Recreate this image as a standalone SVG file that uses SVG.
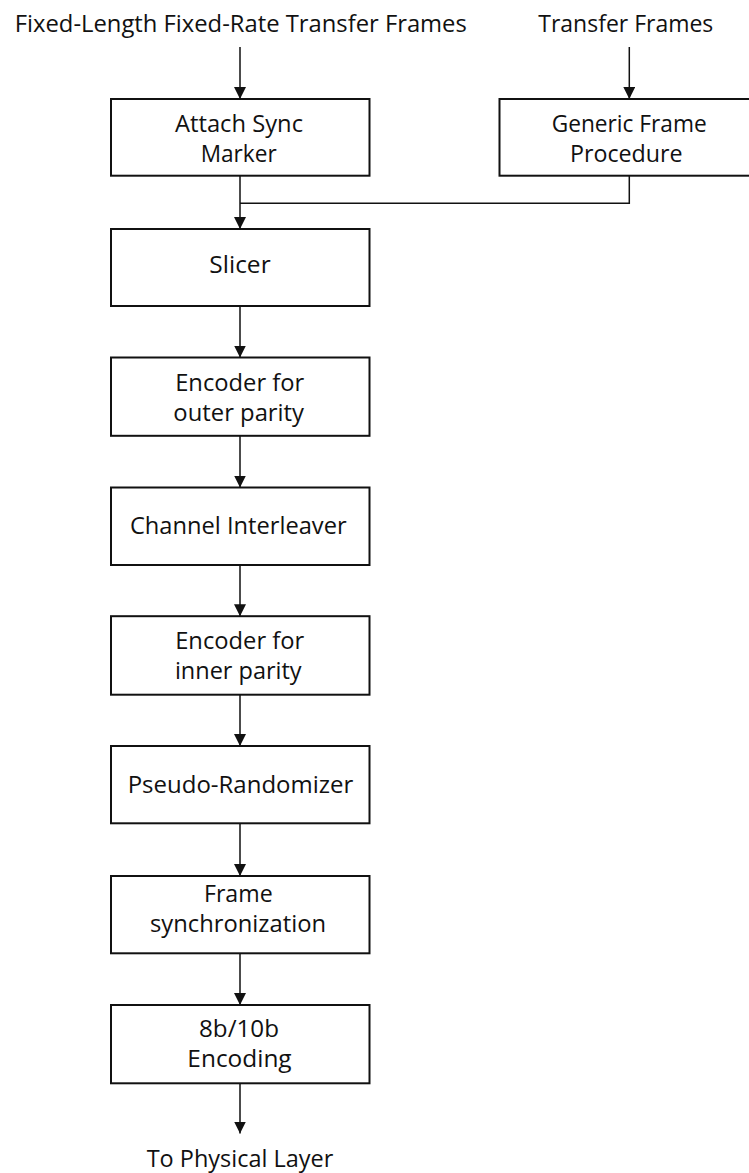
<svg xmlns="http://www.w3.org/2000/svg" width="749" height="1173" viewBox="0 0 749 1173">
<style>
.box{fill:#fff;stroke:#111;stroke-width:2}
.t{font-family:"Open Sans","Noto Sans","DejaVu Sans",sans-serif;font-size:23px;fill:#111;text-anchor:middle}
.c{fill:none;stroke:#111;stroke-width:1.5}
</style>
<defs>
<marker id="ah" viewBox="0 0 12 12" markerWidth="12" markerHeight="12" refX="12" refY="6" orient="auto" markerUnits="userSpaceOnUse">
<path d="M0,0 L12,6 L0,12 Z" fill="#111"/>
</marker>
</defs>
<rect width="749" height="1173" fill="#fff"/>
<g id="labels">
<text class="t" x="240.8" y="31.7" textLength="452" lengthAdjust="spacingAndGlyphs">Fixed-Length Fixed-Rate Transfer Frames</text>
<text class="t" x="625.8" y="31.7" textLength="175" lengthAdjust="spacingAndGlyphs">Transfer Frames</text>
<text class="t" x="240" y="1166.7" textLength="186.7" lengthAdjust="spacingAndGlyphs">To Physical Layer</text>
</g>
<g id="connectors">
<line class="c" x1="240" y1="47" x2="240" y2="99" marker-end="url(#ah)"/>
<line class="c" x1="629.3" y1="47" x2="629.3" y2="99" marker-end="url(#ah)"/>
<line class="c" x1="240" y1="176" x2="240" y2="229" marker-end="url(#ah)"/>
<polyline class="c" points="629.3,176 629.3,203.3 240,203.3"/>
<line class="c" x1="240" y1="306" x2="240" y2="357.5" marker-end="url(#ah)"/>
<line class="c" x1="240" y1="435.5" x2="240" y2="487.5" marker-end="url(#ah)"/>
<line class="c" x1="240" y1="565" x2="240" y2="616.2" marker-end="url(#ah)"/>
<line class="c" x1="240" y1="694.7" x2="240" y2="746" marker-end="url(#ah)"/>
<line class="c" x1="240" y1="823.5" x2="240" y2="876" marker-end="url(#ah)"/>
<line class="c" x1="240" y1="953.3" x2="240" y2="1005" marker-end="url(#ah)"/>
<line class="c" x1="240" y1="1083.3" x2="240" y2="1133.5" marker-end="url(#ah)"/>
</g>
<g id="attach">
<rect class="box" x="111" y="99" width="258.5" height="76.7"/>
<text class="t" x="239" y="131.7" textLength="128" lengthAdjust="spacingAndGlyphs">Attach Sync</text>
<text class="t" x="238.7" y="161.7" textLength="76" lengthAdjust="spacingAndGlyphs">Marker</text>
</g>
<g id="generic">
<rect class="box" x="499.5" y="99" width="250.5" height="76.7"/>
<text class="t" x="629.2" y="131.7" textLength="155" lengthAdjust="spacingAndGlyphs">Generic Frame</text>
<text class="t" x="626.3" y="161.7" textLength="112.7" lengthAdjust="spacingAndGlyphs">Procedure</text>
</g>
<g id="slicer">
<rect class="box" x="111" y="229" width="258.5" height="77"/>
<text class="t" x="240" y="273.3" textLength="61.3" lengthAdjust="spacingAndGlyphs">Slicer</text>
</g>
<g id="outer">
<rect class="box" x="111" y="357.5" width="258.5" height="78.3"/>
<text class="t" x="239.7" y="390.7" textLength="129" lengthAdjust="spacingAndGlyphs">Encoder for</text>
<text class="t" x="238.7" y="420.7" textLength="130.7" lengthAdjust="spacingAndGlyphs">outer parity</text>
</g>
<g id="interleaver">
<rect class="box" x="111" y="487.5" width="258.5" height="77.5"/>
<text class="t" x="238.3" y="534.3" textLength="216.7" lengthAdjust="spacingAndGlyphs">Channel Interleaver</text>
</g>
<g id="inner">
<rect class="box" x="111" y="616.2" width="258.5" height="78.5"/>
<text class="t" x="239.7" y="649.3" textLength="129" lengthAdjust="spacingAndGlyphs">Encoder for</text>
<text class="t" x="238.3" y="679.3" textLength="126.7" lengthAdjust="spacingAndGlyphs">inner parity</text>
</g>
<g id="randomizer">
<rect class="box" x="111" y="746" width="258.5" height="77.3"/>
<text class="t" x="240.5" y="792.7" textLength="225.7" lengthAdjust="spacingAndGlyphs">Pseudo-Randomizer</text>
</g>
<g id="framesync">
<rect class="box" x="111" y="876" width="258.5" height="77.3"/>
<text class="t" x="238.3" y="901.7" textLength="68.7" lengthAdjust="spacingAndGlyphs">Frame</text>
<text class="t" x="238" y="931.7" textLength="176" lengthAdjust="spacingAndGlyphs">synchronization</text>
</g>
<g id="encoding">
<rect class="box" x="111" y="1005" width="258.5" height="78.3"/>
<text class="t" x="239" y="1036.7" textLength="80" lengthAdjust="spacingAndGlyphs">8b/10b</text>
<text class="t" x="239.5" y="1066.7" textLength="104.3" lengthAdjust="spacingAndGlyphs">Encoding</text>
</g>
</svg>
